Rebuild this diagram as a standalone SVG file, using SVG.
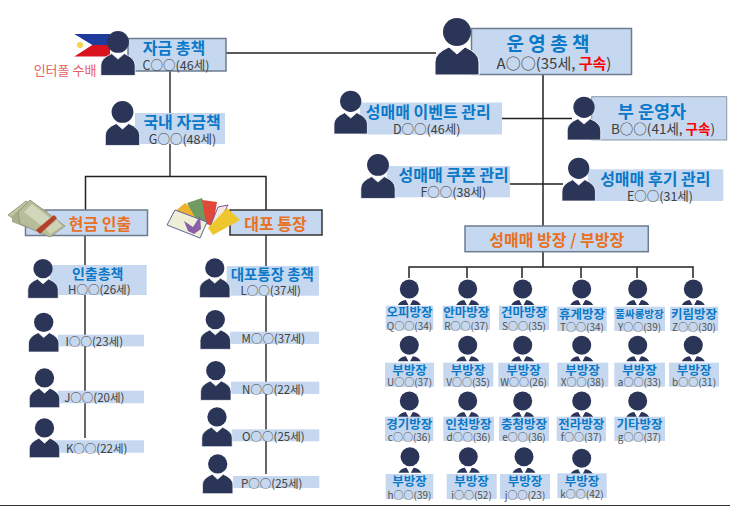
<svg xmlns="http://www.w3.org/2000/svg" xmlns:xlink="http://www.w3.org/1999/xlink" width="730" height="506" viewBox="0 0 730 506">
<style>
text{font-family:"Noto Sans CJK KR","Noto Sans",sans-serif;text-anchor:middle;dominant-baseline:central}
.box{fill:#c6d8ef}
.bd{stroke:#6d7b8e;stroke-width:1.5}
.t{fill:#0b78c8;font-weight:700}
.o{fill:#e8701e;font-weight:700}
.s{fill:#404040}
.g{fill:#0b78c8;font-weight:700;font-size:12.500px}
.n{fill:#505050;font-size:10px}
.l{fill:none;stroke:#222;stroke-width:1.5}
.m{fill:none;stroke:#666;stroke-width:2}
.r{fill:#ff0000;font-weight:700}
</style>
<defs>
<g id="person">
<circle cx="0" cy="14" r="14" fill="#2a3558"/>
<path d="M-22 57V44Q-22 35-8 29L0 36 8 29Q22 35 22 44V57Z" fill="#2a3558" stroke="#fff" stroke-width="1"/>
<path d="M-4 30L0 35 4 30Z" fill="#fff"/>
</g>
<g id="mini">
<circle cx="0" cy="0" r="9.500" fill="#2a3558"/>
<path d="M-11.500 16Q-9 11.500-3.500 11L-.8 16ZM11.500 16Q9 11.500 3.500 11L.8 16Z" fill="#2a3558"/>
</g>
</defs>
<rect width="730" height="506" fill="#fff"/>
<g id="connectors">
<path class="l" d="M226 53H436"/>
<path class="m" d="M170 71V113M170 144V176"/>
<path class="l" d="M85.500 210V176.500H266V210M543 75V226M501 118.500H572M510 184H563M543 252V267M409 278V267H693V278M467 267V278M522 267V278M581 267V278M637 267V278"/>
<path class="m" d="M85 235V438M266 235V474"/>
</g>
<g id="node-c">
<g id="flag"><path d="M74 34H110V45H92Z" fill="#1f3c9c"/><path d="M74 56.500H110V45H92Z" fill="#d8131f"/><path d="M74 34L92 45 74 56.500Z" fill="#fff"/><circle cx="80" cy="45" r="3" fill="#f7d44a"/></g>
<rect class="box bd" x="128" y="38.500" width="98" height="32.500"/>
<use xlink:href="#person" href="#person" transform="translate(118 31) scale(.78)"/>
<text class="t" x="174" y="47" font-size="16">자금 총책</text>
<text class="s" x="176" y="64" font-size="12.500">C○○(46세)</text>
<text x="65" y="69" font-size="13" fill="#e8606a">인터폴 수배</text>
</g>
<g id="node-a">
<rect class="box bd" x="471.500" y="28.500" width="160" height="46"/>
<use xlink:href="#person" href="#person" transform="translate(457 18)"/>
<text class="t" x="548" y="42.500" font-size="19">운 영 총 책</text>
<text class="s" x="554" y="62" font-size="15">A○○(35세, <tspan class="r">구속</tspan>)</text>
</g>
<g id="node-g">
<rect class="box" x="135" y="113" width="90" height="31"/>
<use xlink:href="#person" href="#person" transform="translate(122.500 101) scale(.78)"/>
<text class="t" x="182" y="121" font-size="16">국내 자금책</text>
<text class="s" x="182.500" y="138" font-size="12.500">G○○(48세)</text>
</g>
<g id="node-cash">
<rect class="box bd" x="25.500" y="210" width="122" height="25.500"/>
<g id="money">
<path d="M8 215L26 201 44 212 24 226Z" fill="#bfc4a0" stroke="#8d8f74" stroke-width=".8"/>
<path d="M12 222L12 216 30 201 48 212 28 228Z" fill="#a9ae8c"/>
<path d="M18 212L30 200 65 226 50 237 20 224Z" fill="#b7bd98" stroke="#8a8c70" stroke-width=".8"/>
<path d="M24 212L32 204 50 218 42 226Z" fill="#d2d6bb"/>
<path d="M36 230L54 215 57 218 40 234Z" fill="#b5402a"/>
<path d="M46 229L57 220 62 226 50 234Z" fill="#cfd2b5"/>
</g>
<text class="o" x="100" y="222.500" font-size="16">현금 인출</text>
</g>
<g id="node-bank">
<rect class="box" x="230" y="210" width="92" height="25" stroke="#333" stroke-width="1.500"/>
<g id="cards">
<path d="M173 213L185 203 207 220 196 232Z" fill="#eeb22e"/>
<path d="M187 203L202 198 210 222 200 226Z" fill="#6f9a62"/>
<path d="M202 200L217 202 213 226 206 224Z" fill="#e0483a"/>
<path d="M218 207L228 205 215 230 210 227Z" fill="#f2e8dc" stroke="#7a5a9a"/>
<path d="M227 208L240 220 213 235 208 228Z" fill="#eec62e"/>
<path d="M175 210L207 222 200 238 167 225Z" fill="#efeed6" stroke="#5a6a9a" stroke-width="1"/>
<path d="M184 221L193 227 200 216 201 229 194 234 188 231Z" fill="#8a5fa8"/>
</g>
<text class="o" x="275.500" y="222.500" font-size="16">대포 통장</text>
</g>
<g id="node-d">
<rect class="box" x="360" y="102.500" width="142" height="32"/>
<use xlink:href="#person" href="#person" transform="translate(350.700 90.700) scale(.76)"/>
<text class="t" x="428.300" y="111" font-size="16">성매매 이벤트 관리</text>
<text class="s" x="426.700" y="128.300" font-size="12.500">D○○(46세)</text>
</g>
<g id="node-b">
<rect class="box" x="591.700" y="96.700" width="135" height="43.300" stroke="#8a97a8" stroke-width="1"/>
<use xlink:href="#person" href="#person" transform="translate(584 96.700) scale(.76)"/>
<text class="t" x="652" y="110" font-size="17.500">부 운영자</text>
<text class="s" x="663" y="128" font-size="13.500">B○○(41세, <tspan class="r">구속</tspan>)</text>
</g>
<g id="node-f">
<rect class="box" x="386.700" y="166" width="123.300" height="31.300"/>
<use xlink:href="#person" href="#person" transform="translate(378 154) scale(.78)"/>
<text class="t" x="453.700" y="174.300" font-size="16">성매매 쿠폰 관리</text>
<text class="s" x="453.300" y="191.700" font-size="12.500">F○○(38세)</text>
</g>
<g id="node-e">
<rect class="box" x="588" y="169.300" width="135.300" height="31.700"/>
<use xlink:href="#person" href="#person" transform="translate(578.700 157.700) scale(.76)"/>
<text class="t" x="655.300" y="178" font-size="16">성매매 후기 관리</text>
<text class="s" x="660" y="195.700" font-size="12.500">E○○(31세)</text>
</g>
<g id="node-room">
<rect class="box bd" x="465" y="226" width="183.300" height="25.700"/>
<text class="o" x="556.700" y="239.300" font-size="16">성매매 방장 / 부방장</text>
</g>
<g id="node-h"><rect class="box" x="50" y="265" width="96.700" height="30"/><use xlink:href="#person" href="#person" transform="translate(43 259) scale(.69)"/><text class="t" x="97.700" y="272.700" font-size="14">인출총책</text><text class="s" x="99.300" y="289" font-size="11.500">H○○(26세)</text></g>
<g id="node-i"><rect class="box" x="58" y="334.700" width="86" height="11.700"/><use xlink:href="#person" href="#person" transform="translate(43.700 312.700) scale(.69)"/><text class="s" x="94.300" y="341" font-size="11.500">I○○(23세)</text></g>
<g id="node-j"><rect class="box" x="58" y="390.700" width="86" height="12.600"/><use xlink:href="#person" href="#person" transform="translate(44.500 368.300) scale(.69)"/><text class="s" x="94.300" y="397" font-size="11.500">J○○(20세)</text></g>
<g id="node-k"><rect class="box" x="55" y="440.300" width="89" height="12.400"/><use xlink:href="#person" href="#person" transform="translate(44.500 418.300) scale(.69)"/><text class="s" x="96.700" y="447.700" font-size="11.500">K○○(22세)</text></g>
<g id="node-l"><rect class="box" x="226.700" y="266" width="92.300" height="29.700"/><use xlink:href="#person" href="#person" transform="translate(214.800 258.300) scale(.69)"/><text class="t" x="272.300" y="273.300" font-size="14.500">대포통장 총책</text><text class="s" x="270.700" y="290" font-size="11.500">L○○(37세)</text></g>
<g id="node-m"><rect class="box" x="230" y="331.700" width="89" height="12.300"/><use xlink:href="#person" href="#person" transform="translate(215.300 310) scale(.69)"/><text class="s" x="273.300" y="338.300" font-size="11.500">M○○(37세)</text></g>
<g id="node-n"><rect class="box" x="231" y="381.700" width="88.300" height="12.300"/><use xlink:href="#person" href="#person" transform="translate(215.800 361) scale(.69)"/><text class="s" x="273.300" y="389" font-size="11.500">N○○(22세)</text></g>
<g id="node-o"><rect class="box" x="231.700" y="429.300" width="87.600" height="12"/><use xlink:href="#person" href="#person" transform="translate(217 407.300) scale(.69)"/><text class="s" x="273.300" y="436" font-size="11.500">O○○(25세)</text></g>
<g id="node-p"><rect class="box" x="233" y="476" width="86.300" height="12"/><use xlink:href="#person" href="#person" transform="translate(217.700 454.300) scale(.69)"/><text class="s" x="271.700" y="483.300" font-size="11.500">P○○(25세)</text></g>

<g id="node-q"><use xlink:href="#mini" href="#mini" x="409.300" y="289"/><rect class="box" x="385.700" y="305.700" width="47.600" height="24.300"/><text class="g" x="409.500" y="311.700">오피방장</text><text class="n" x="409.500" y="325.700">Q○○(34)</text></g>
<g id="node-r"><use xlink:href="#mini" href="#mini" x="467.700" y="289"/><rect class="box" x="442.700" y="305.700" width="47.300" height="24.300"/><text class="g" x="466.300" y="311.700">안마방장</text><text class="n" x="466.300" y="325.700">R○○(37)</text></g>
<g id="node-s"><use xlink:href="#mini" href="#mini" x="522.700" y="289"/><rect class="box" x="499" y="305.700" width="50" height="24.300"/><text class="g" x="524" y="311.700">건마방장</text><text class="n" x="524" y="325.700">S○○(35)</text></g>
<g id="node-t"><use xlink:href="#mini" href="#mini" x="581.700" y="289"/><rect class="box" x="557.300" y="306.700" width="49.400" height="24.300"/><text class="g" x="582" y="313.300">휴게방장</text><text class="n" x="582" y="326.700">T○○(34)</text></g>
<g id="node-y"><use xlink:href="#mini" href="#mini" x="637.700" y="289"/><rect class="box" x="614.300" y="306.700" width="50.700" height="24.300"/><text class="g" x="639.500" y="313.300" style="font-size:10.500px">풀싸롱방장</text><text class="n" x="639.500" y="326.700">Y○○(39)</text></g>
<g id="node-z"><use xlink:href="#mini" href="#mini" x="693.300" y="289"/><rect class="box" x="670" y="306.700" width="48.300" height="24.300"/><text class="g" x="694" y="313.300">키림방장</text><text class="n" x="694" y="326.700">Z○○(30)</text></g>

<g id="node-u"><use xlink:href="#mini" href="#mini" x="409.300" y="345.300"/><rect class="box" x="385" y="362.700" width="49" height="24"/><text class="g" x="409.500" y="369">부방장</text><text class="n" x="409.500" y="381.700">U○○(37)</text></g>
<g id="node-v"><use xlink:href="#mini" href="#mini" x="467.700" y="345.300"/><rect class="box" x="443.300" y="362.700" width="50" height="24"/><text class="g" x="468" y="369">부방장</text><text class="n" x="468" y="381.700">V○○(35)</text></g>
<g id="node-w"><use xlink:href="#mini" href="#mini" x="522.700" y="345.300"/><rect class="box" x="498.300" y="362.700" width="50.700" height="24"/><text class="g" x="523.500" y="369">부방장</text><text class="n" x="523.500" y="381.700">W○○(26)</text></g>
<g id="node-x"><use xlink:href="#mini" href="#mini" x="581.700" y="345.300"/><rect class="box" x="557.300" y="362.700" width="51" height="24"/><text class="g" x="582.500" y="369">부방장</text><text class="n" x="582.500" y="381.700">X○○(38)</text></g>
<g id="node-a2"><use xlink:href="#mini" href="#mini" x="637.700" y="345.300"/><rect class="box" x="614.300" y="362.700" width="50.700" height="24"/><text class="g" x="639.500" y="369">부방장</text><text class="n" x="639.500" y="381.700">a○○(33)</text></g>
<g id="node-b2"><use xlink:href="#mini" href="#mini" x="693.300" y="345.300"/><rect class="box" x="669" y="362.700" width="50" height="24"/><text class="g" x="694" y="369">부방장</text><text class="n" x="694" y="381.700">b○○(31)</text></g>

<g id="node-c2"><use xlink:href="#mini" href="#mini" x="409.300" y="401"/><rect class="box" x="385" y="416.700" width="48.300" height="24.300"/><text class="g" x="409.300" y="423.300">경기방장</text><text class="n" x="409.300" y="436">c○○(36)</text></g>
<g id="node-d2"><use xlink:href="#mini" href="#mini" x="467.700" y="401"/><rect class="box" x="443.300" y="416.700" width="50.700" height="24.300"/><text class="g" x="468.500" y="423.300">인천방장</text><text class="n" x="468.500" y="436">d○○(36)</text></g>
<g id="node-e2"><use xlink:href="#mini" href="#mini" x="522.700" y="401"/><rect class="box" x="499" y="416.700" width="50" height="24.300"/><text class="g" x="524" y="423.300">충청방장</text><text class="n" x="524" y="436">e○○(36)</text></g>
<g id="node-f2"><use xlink:href="#mini" href="#mini" x="581.700" y="401"/><rect class="box" x="556.700" y="416.700" width="49.300" height="24.300"/><text class="g" x="581.300" y="423.300">전라방장</text><text class="n" x="581.300" y="436">f○○(37)</text></g>
<g id="node-g2"><use xlink:href="#mini" href="#mini" x="637.700" y="401"/><rect class="box" x="614.300" y="416.700" width="50.700" height="24.300"/><text class="g" x="639.500" y="423.300">기타방장</text><text class="n" x="639.500" y="436">g○○(37)</text></g>

<g id="node-h2"><use xlink:href="#mini" href="#mini" x="410" y="456.700"/><rect class="box" x="385.700" y="474" width="47.600" height="25"/><text class="g" x="409.500" y="480.700">부방장</text><text class="n" x="409.500" y="494">h○○(39)</text></g>
<g id="node-i2"><use xlink:href="#mini" href="#mini" x="468.300" y="456.700"/><rect class="box" x="446.700" y="474" width="50" height="25"/><text class="g" x="471.500" y="480.700">부방장</text><text class="n" x="471.500" y="494">i○○(52)</text></g>
<g id="node-j2"><use xlink:href="#mini" href="#mini" x="524" y="456.700"/><rect class="box" x="500" y="474" width="50" height="25"/><text class="g" x="525" y="480.700">부방장</text><text class="n" x="525" y="494">j○○(23)</text></g>
<g id="node-k2"><use xlink:href="#mini" href="#mini" x="581.700" y="458.300"/><rect class="box" x="557.300" y="473.300" width="49.400" height="24.700"/><text class="g" x="582" y="480">부방장</text><text class="n" x="582" y="493">k○○(42)</text></g>
<rect id="bottom-rule" x="0" y="505" width="730" height="1" fill="#333"/>
</svg>
